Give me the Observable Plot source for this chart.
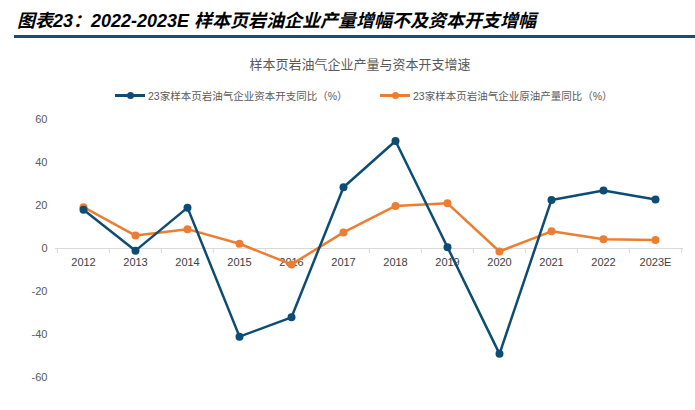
<!DOCTYPE html>
<html>
<head>
<meta charset="utf-8">
<script src="https://cdn.jsdelivr.net/npm/d3@7"></script>
<script src="https://cdn.jsdelivr.net/npm/@observablehq/plot@0.6"></script>
<style>
  html, body { margin: 0; padding: 0; background: #fff; }
  #wrap { position: relative; width: 695px; height: 410px; overflow: hidden; font-family: "Liberation Sans", "Noto Sans CJK SC", sans-serif; }
  #title { position: absolute; left: 17px; top: 11px; font-size: 18px; font-weight: bold; font-style: italic; color: #000; white-space: nowrap; line-height: 21px; font-family: "Liberation Sans", "Noto Sans CJK SC", sans-serif; }
  #rule { position: absolute; left: 14px; right: 0; top: 35px; height: 3px; background: #1b4f72; }
  #subtitle { position: absolute; left: 0; width: 720px; top: 57px; text-align: center; font-size: 13px; color: #595959; line-height: 16px; }
  #legend { position: absolute; left: 0; top: 88px; width: 695px; height: 14px; font-size: 10.5px; color: #595959; }
  .item { position: absolute; top: 0; display: flex; align-items: center; height: 14px; white-space: nowrap; }
  .sw { position: relative; width: 30px; height: 3px; margin-right: 3px; }
  .sw i { position: absolute; left: 12px; top: -2px; width: 7px; height: 7px; border-radius: 50%; }
  #chart { position: absolute; left: 0; top: 105px; }
</style>
</head>
<body>
<div id="wrap">
  <div id="title">图表23：2022-2023E 样本页岩油企业产量增幅不及资本开支增幅</div>
  <div id="rule"></div>
  <div id="subtitle">样本页岩油气企业产量与资本开支增速</div>
  <div id="legend"></div>
  <div id="chart"></div>
</div>
<script>
const years = ["2012","2013","2014","2015","2016","2017","2018","2019","2020","2021","2022","2023E"];
const capexYoY = [18, -1, 19, -41, -32, 28.5, 50, 0.6, -49, 22.6, 27, 22.8];
const outputYoY = [19.2, 6, 9, 2.2, -7.4, 7.5, 19.8, 21, -1.4, 8, 4.3, 4];
const yTicks = [60, 40, 20, 0, -20, -40, -60];
const seriesNames = ["23家样本页岩油气企业资本开支同比（%）", "23家样本页岩油气企业原油产量同比（%）"];
const seriesColors = ["#0d4c73", "#ed7d31"];

const capexData = years.map((y, i) => ({year: y, value: capexYoY[i]}));
const outputData = years.map((y, i) => ({year: y, value: outputYoY[i]}));

// legend
const legend = document.getElementById("legend");
const legendX = [115, 380];
seriesNames.forEach((name, i) => {
  const it = document.createElement("div");
  it.className = "item";
  it.style.left = legendX[i] + "px";
  it.innerHTML = `<span class="sw" style="background:${seriesColors[i]}"><i style="background:${seriesColors[i]}"></i></span><span>${name}</span>`;
  legend.appendChild(it);
});

const W = 695, H = 305, mL = 55, mR = 12;
const bw = (W - mL - mR) / years.length;

const chart = Plot.plot({
  width: W,
  height: H,
  marginLeft: mL,
  marginRight: mR,
  marginTop: 14,
  marginBottom: 33,
  style: {fontFamily: "Liberation Sans, Arial, sans-serif", fontSize: "11px", color: "#595959", background: "transparent"},
  x: {type: "point", domain: years, padding: 0.5, axis: null},
  y: {domain: [-60, 60]},
  marks: [
    Plot.axisY({ticks: yTicks, tickSize: 0, tickPadding: 8, label: null, tickFormat: d => `${d}`, fill: "#595959", fontSize: 11}),
    Plot.ruleY([0], {stroke: "#d9d9d9", strokeWidth: 1}),
    Plot.ruleX(years, {x: d => d, y1: 0, y2: -2.3, dx: -bw / 2, stroke: "#d9d9d9"}),
    Plot.ruleX([years[years.length - 1]], {x: d => d, y1: 0, y2: -2.3, dx: bw / 2, stroke: "#d9d9d9"}),
    Plot.text(years, {x: d => d, y: 0, dy: 14, text: d => d, fill: "#404040", fontSize: 11}),
    Plot.line(outputData, {x: "year", y: "value", stroke: seriesColors[1], strokeWidth: 2.5}),
    Plot.dot(outputData, {x: "year", y: "value", fill: seriesColors[1], r: 4}),
    Plot.line(capexData, {x: "year", y: "value", stroke: seriesColors[0], strokeWidth: 2.5}),
    Plot.dot(capexData, {x: "year", y: "value", fill: seriesColors[0], r: 4})
  ]
});
document.getElementById("chart").appendChild(chart);
</script>
</body>
</html>
